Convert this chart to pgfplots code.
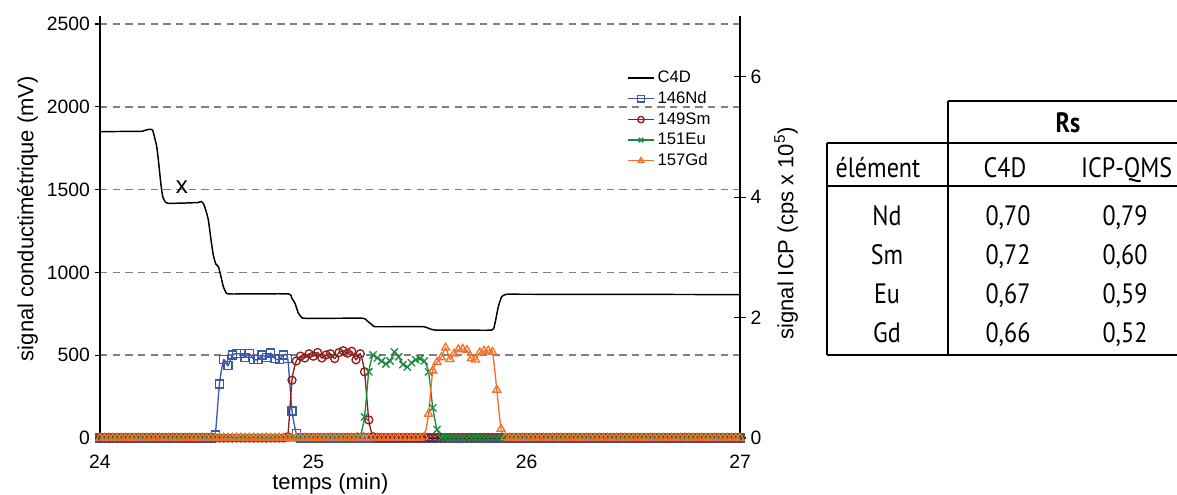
\documentclass[border=0pt]{standalone}
\usepackage{pgfplots}
\pgfplotsset{compat=1.18}
\usepackage{pgfplotstable}
\usepackage{fontspec}
\setmainfont{Liberation Sans}
\newfontfamily\tablefont[FakeStretch=0.86]{PT Sans}
\definecolor{cNd}{HTML}{3B5BAA}
\definecolor{cSm}{HTML}{8E1E1E}
\definecolor{cEu}{HTML}{1E8A3C}
\definecolor{cGd}{HTML}{F2722C}

\pgfplotstableread{
t Nd Sm Eu Gd
24.00 0 0 0 0
24.02 0 0 0 0
24.04 0 0 0 0
24.06 0 0 0 0
24.08 0 0 0 0
24.10 0 0 0 0
24.12 0 0 0 0
24.14 0 0 0 0
24.16 0 0 0 0
24.18 0 0 0 0
24.20 0 0 0 0
24.22 0 0 0 0
24.24 0 0 0 0
24.26 0 0 0 0
24.28 0 0 0 0
24.30 0 0 0 0
24.32 0 0 0 0
24.34 0 0 0 0
24.36 0 0 0 0
24.38 0 0 0 0
24.40 0 0 0 0
24.42 0 0 0 0
24.44 0 0 0 0
24.46 0 0 0 0
24.48 0 0 0 0
24.50 0 0 0 0
24.52 0 0 0 0
24.54 0.05 0 0 0
24.56 0.90 0 0 0
24.58 1.30 0 0 0
24.60 1.20 0 0 0
24.62 1.38 0 0 0
24.64 1.40 0 0 0
24.66 1.40 0 0 0
24.68 1.34 0 0 0
24.70 1.40 0 0 0
24.72 1.31 0 0 0
24.74 1.30 0 0 0
24.76 1.38 0 0 0
24.78 1.34 0 0 0
24.80 1.41 0 0 0
24.82 1.32 0 0 0
24.84 1.30 0 0 0
24.86 1.38 0 0 0
24.88 1.32 0.02 0 0
24.90 0.45 0.96 0 0
24.92 0.08 1.28 0 0
24.94 0 1.36 0 0
24.96 0 1.33 0 0
24.98 0 1.40 0 0
25.00 0 1.36 0 0
25.02 0 1.42 0 0
25.04 0 1.33 0 0
25.06 0 1.38 0 0
25.08 0 1.40 0 0
25.10 0 1.32 0 0
25.12 0 1.42 0 0
25.14 0 1.45 0 0
25.16 0 1.41 0 0
25.18 0 1.44 0 0
25.20 0 1.30 0 0
25.22 0 1.40 0.03 0
25.24 0 1.10 0.35 0
25.26 0 0.30 1.10 0
25.28 0 0.02 1.38 0
25.30 0 0 1.33 0
25.32 0 0 1.28 0
25.34 0 0 1.23 0
25.36 0 0 1.28 0
25.38 0 0 1.43 0
25.40 0 0 1.35 0
25.42 0 0 1.22 0
25.44 0 0 1.18 0
25.46 0 0 1.25 0
25.48 0 0 1.30 0
25.50 0 0 1.32 0
25.52 0 0 1.28 0.02
25.54 0 0 1.10 0.40
25.56 0 0 0.50 1.12
25.58 0 0 0.14 1.26
25.60 0 0 0.01 1.34
25.62 0 0 0 1.50
25.64 0 0 0 1.31
25.66 0 0 0 1.40
25.68 0 0 0 1.47
25.70 0 0 0 1.48
25.72 0 0 0 1.46
25.74 0 0 0 1.32
25.76 0 0 0 1.30
25.78 0 0 0 1.42
25.80 0 0 0 1.45
25.82 0 0 0 1.45
25.84 0 0 0 1.43
25.86 0 0 0 0.80
25.88 0 0 0 0.15
25.90 0 0 0 0.01
25.92 0 0 0 0
25.94 0 0 0 0
25.96 0 0 0 0
25.98 0 0 0 0
26.00 0 0 0 0
26.02 0 0 0 0
26.04 0 0 0 0
26.06 0 0 0 0
26.08 0 0 0 0
26.10 0 0 0 0
26.12 0 0 0 0
26.14 0 0 0 0
26.16 0 0 0 0
26.18 0 0 0 0
26.20 0 0 0 0
26.22 0 0 0 0
26.24 0 0 0 0
26.26 0 0 0 0
26.28 0 0 0 0
26.30 0 0 0 0
26.32 0 0 0 0
26.34 0 0 0 0
26.36 0 0 0 0
26.38 0 0 0 0
26.40 0 0 0 0
26.42 0 0 0 0
26.44 0 0 0 0
26.46 0 0 0 0
26.48 0 0 0 0
26.50 0 0 0 0
26.52 0 0 0 0
26.54 0 0 0 0
26.56 0 0 0 0
26.58 0 0 0 0
26.60 0 0 0 0
26.62 0 0 0 0
26.64 0 0 0 0
26.66 0 0 0 0
26.68 0 0 0 0
26.70 0 0 0 0
26.72 0 0 0 0
26.74 0 0 0 0
26.76 0 0 0 0
26.78 0 0 0 0
26.80 0 0 0 0
26.82 0 0 0 0
26.84 0 0 0 0
26.86 0 0 0 0
26.88 0 0 0 0
26.90 0 0 0 0
26.92 0 0 0 0
26.94 0 0 0 0
26.96 0 0 0 0
26.98 0 0 0 0
27.00 0 0 0 0
}\icp

\begin{document}
\begin{tikzpicture}
\pgfplotsset{
  every axis/.append style={
    scale only axis, width=480pt, height=310.5pt,
    at={(75pt,42.75pt)}, anchor=south west,
    xmin=24, xmax=27,
    /pgf/number format/assume math mode=true,
    /pgf/number format/1000 sep={},
    tick label style={font=\fontsize{14.5}{17}\selectfont},
    label style={font=\fontsize{16.5}{19}\selectfont},
    axis line style={line width=0.8pt, black},
    every tick/.style={black, line width=0.8pt},
  },
}
\begin{axis}[
  axis y line*=left, axis x line*=bottom,
  ymin=0, ymax=2500, ytick={0,500,1000,1500,2000,2500},
  xtick={24,25,26,27},
  tick align=outside, major tick length=4pt,
  xticklabel style={yshift=-5pt},
  ymajorgrids,
  grid style={gray, line width=1.1pt, dash pattern=on 5.5pt off 4pt},
  ylabel={signal conductimétrique (mV)},
  ylabel style={at={(axis description cs:-0.113,0.53)}, anchor=center},
  xlabel={temps (min)},
  xlabel style={at={(axis description cs:0.36,-0.1256)}, anchor=base},
  y axis line style={shorten >=-6pt},
]
\addplot[black, line width=1.1pt, smooth, tension=0.3] coordinates {
(24.000,1850) (24.100,1851) (24.195,1852) (24.216,1860) (24.234,1864)
(24.247,1858) (24.266,1759) (24.277,1638) (24.285,1538) (24.294,1457)
(24.305,1427) (24.320,1417) (24.400,1419) (24.460,1422) (24.474,1428)
(24.485,1415) (24.495,1380) (24.508,1316) (24.520,1200) (24.531,1105)
(24.543,1050) (24.555,1035) (24.566,980) (24.578,914) (24.590,880)
(24.601,870) (24.700,870) (24.883,870) (24.899,844) (24.914,813)
(24.930,753) (24.946,727) (24.961,723) (25.100,723) (25.234,723)
(25.250,710) (25.266,693) (25.280,678) (25.289,672) (25.400,672)
(25.516,672) (25.530,668) (25.545,660) (25.570,652) (25.700,652)
(25.836,652) (25.851,690) (25.867,793) (25.883,853) (25.906,868)
(26.000,868) (27.000,866)
};
\node[font=\fontsize{18}{20}\selectfont] at (axis cs:24.384,1516) {x};
\end{axis}

\begin{axis}[
  axis y line*=right, axis x line=none,
  ymin=0, ymax=6.88, ytick={0,2,4,6},
  tick align=center, major tick length=9pt,
  ylabel={signal ICP (cps x 10\textsuperscript{5})},
  ylabel style={at={(axis description cs:1.072,0.494)}, anchor=center},
  y axis line style={shorten >=-6pt},
  legend style={at={(axis description cs:0.823,0.893)}, anchor=north west,
    draw=none, fill=none, font=\fontsize{12.5}{14}\selectfont,
    row sep=1.2pt, inner sep=0pt},
  legend cell align=left,
  legend image code/.code={\draw[mark repeat=2,mark phase=2,mark size=2.4pt,#1] plot coordinates {(0pt,0pt)(10pt,0pt)(20pt,0pt)};},
]
\addlegendimage{black, line width=1pt}
\addlegendentry{C4D}
\addplot[cNd, line width=1pt, mark=square, mark size=3pt, smooth, tension=0.4] table[x=t,y=Nd]{\icp};
\addlegendentry{146Nd}
\addplot[cSm, line width=1pt, mark=o, mark size=3pt, smooth, tension=0.4] table[x=t,y=Sm]{\icp};
\addlegendentry{149Sm}
\addplot[cEu, line width=1pt, mark=x, mark size=3.8pt, smooth, tension=0.4] table[x=t,y=Eu]{\icp};
\addlegendentry{151Eu}
\addplot[cGd, line width=1pt, mark=triangle, mark size=3.4pt, smooth, tension=0.4] table[x=t,y=Gd]{\icp};
\addlegendentry{157Gd}
\end{axis}

% table of resolutions
\begin{scope}[line width=1pt]
\draw (711pt,295.5pt) -- (882.75pt,295.5pt);
\draw (620.25pt,264pt) -- (882.75pt,264pt);
\draw (620.25pt,231.75pt) -- (882.75pt,231.75pt);
\draw (620.25pt,105pt) -- (882.75pt,105pt);
\draw (620.25pt,264pt) -- (620.25pt,105pt);
\draw (711pt,295.5pt) -- (711pt,105pt);
\end{scope}
\begin{scope}[every node/.style={anchor=base, inner sep=0pt, font=\tablefont\fontsize{21}{24}\selectfont}]
\node[font=\tablefont\bfseries\fontsize{21}{24}\selectfont] at (801pt,271.5pt) {Rs};
\node at (658.5pt,237.75pt) {élément};
\node at (753.75pt,237.75pt) {C4D};
\node at (845pt,237.75pt) {ICP-QMS};
\node at (665.25pt,201.75pt) {Nd};
\node at (756pt,201.75pt) {0,70};
\node at (843.75pt,201.75pt) {0,79};
\node at (665.25pt,172.5pt) {Sm};
\node at (756pt,172.5pt) {0,72};
\node at (843.75pt,172.5pt) {0,60};
\node at (665.25pt,143.25pt) {Eu};
\node at (756pt,143.25pt) {0,67};
\node at (843.75pt,143.25pt) {0,59};
\node at (665.25pt,114pt) {Gd};
\node at (756pt,114pt) {0,66};
\node at (843.75pt,114pt) {0,52};
\end{scope}
\pgfresetboundingbox
\path (0pt,0pt) rectangle (882.75pt,371.25pt);
\end{tikzpicture}
\end{document}
